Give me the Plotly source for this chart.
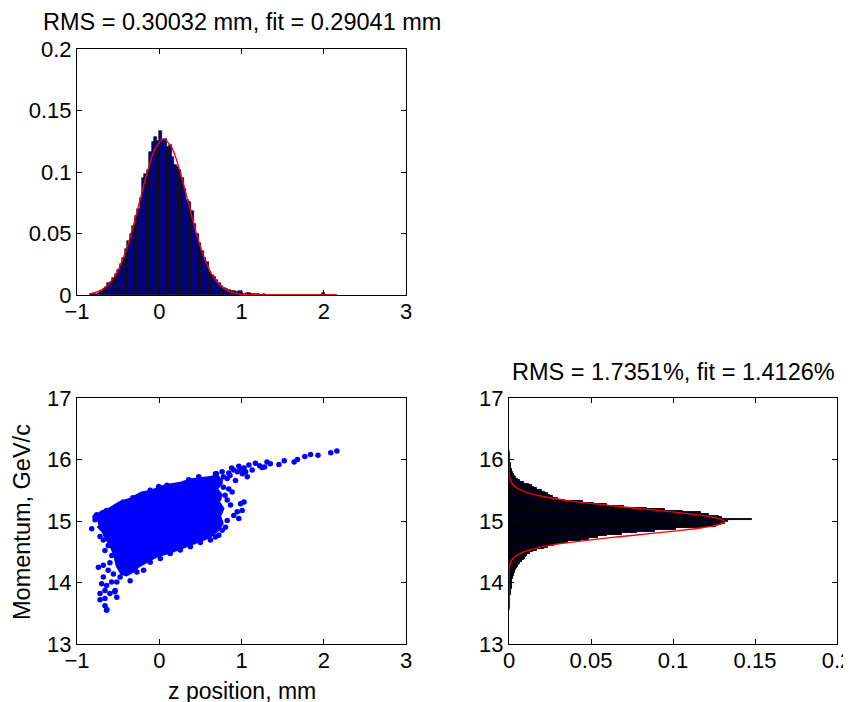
import plotly.graph_objects as go

# ---------------- data ----------------
# top-left: histogram of z position (100 bins)
z_bin_start = -0.84
z_bin_width = 0.03
z_hist = [0.0005, 0.0008, 0.0010, 0.0018, 0.0030, 0.0050, 0.0068, 0.0098, 0.0105, 0.0135,
          0.0170, 0.0205, 0.0255, 0.0300, 0.0370, 0.0440, 0.0500, 0.0560, 0.0640, 0.0700,
          0.0790, 0.0950, 0.0980, 0.1020, 0.1160, 0.1240, 0.1285, 0.1250, 0.1330, 0.1260,
          0.1270, 0.1200, 0.1220, 0.1120, 0.1060, 0.1040, 0.1020, 0.0950, 0.0860, 0.0770,
          0.0760, 0.0680, 0.0580, 0.0500, 0.0420, 0.0360, 0.0300, 0.0270, 0.0190, 0.0160,
          0.0145, 0.0120, 0.0100, 0.0070, 0.0060, 0.0045, 0.0040, 0.0035, 0.0030, 0.0025,
          0.0030, 0.0028, 0.0012, 0.0015, 0.0018, 0.0010, 0.0008, 0.0006, 0.0005, 0.0004,
          0.0006, 0.0003, 0.0004, 0.0002, 0.0003, 0.0002, 0.0003, 0.0002, 0.0002, 0.0001,
          0.0002, 0.0001, 0.0002, 0.0001, 0.0002, 0.0001, 0.0002, 0.0001, 0.0002, 0.0001,
          0.0002, 0.0001, 0.0002, 0.0001, 0.0015, 0.0001, 0.0001, 0.0002, 0.0001, 0.0002]
z_fit_x = [-0.85, -0.75, -0.65, -0.55, -0.45, -0.35, -0.25, -0.15, -0.05, 0.05, 0.15, 0.25,
           0.35, 0.45, 0.55, 0.65, 0.75, 0.85, 0.95, 1.05, 1.15, 1.4, 1.8, 2.15]
z_fit_y = [0.0010, 0.0027, 0.0066, 0.0144, 0.0279, 0.0479, 0.0731, 0.0989, 0.1190, 0.1270,
           0.1200, 0.1010, 0.0757, 0.0502, 0.0296, 0.0155, 0.0072, 0.0030, 0.0011, 0.0004,
           0.0001, 0.0, 0.0, 0.0]

# bottom-left: momentum vs z scatter (dense core outline + individual points)
core_z = [-0.76, -0.70, -0.60, -0.48, -0.35, -0.21, -0.09, 0.03, 0.13, 0.26, 0.38, 0.50,
          0.62, 0.70, 0.74, 0.68, 0.74, 0.70, 0.76, 0.72, 0.75, 0.70, 0.62, 0.54, 0.34,
          0.13, -0.03, -0.15, -0.27, -0.33, -0.40, -0.45, -0.50, -0.53, -0.58, -0.64,
          -0.68, -0.74]
core_p = [15.05, 15.13, 15.18, 15.28, 15.34, 15.44, 15.47, 15.54, 15.57, 15.60, 15.65, 15.66,
          15.69, 15.72, 15.62, 15.52, 15.42, 15.32, 15.20, 15.08, 14.96, 14.86, 14.77, 14.72,
          14.61, 14.51, 14.45, 14.35, 14.27, 14.19, 14.14, 14.16, 14.28, 14.45, 14.62, 14.74,
          14.85, 14.93]
pts_z = [-0.821, -0.78, -0.74, -0.72, -0.68, -0.62, -0.66, -0.577, -0.60, -0.74, -0.68, -0.62,
         -0.557, -0.68, -0.70, -0.64, -0.58, -0.66, -0.72, -0.60, -0.54, -0.72, -0.66, -0.638,
         -0.516, -0.476, -0.66, -0.64, -0.537, -0.516, -0.78, -0.76, -0.64, -0.44, -0.32, -0.11,
         -0.007, 0.094, 0.358, 0.48, 0.683, -0.354, -0.272, -0.19, -0.11, 0.013, 0.134, 0.256,
         0.378, 0.50, 0.622, 0.724,
         0.695, 0.764, 0.845, 0.906, 0.967, 1.03, 1.01, 1.07, 1.09, 1.13, 1.17, 1.25, 1.31,
         1.35, 1.455, 1.52, 1.64, 1.68, 1.77, 1.84, 1.93, 2.085, 2.16, 1.22, 1.28, 0.78, 0.86,
         0.95, 1.00, 0.88, 1.05,
         0.78, 0.845, 0.886, 0.80, 0.826, 0.866, 0.988, 1.03, 1.008, 0.948, 0.906, 0.967,
         0.826, 0.805, 0.764, 0.683, 0.74, 0.826, 0.927, 0.683, 0.724, 0.744, 0.744]
pts_p = [14.876, 15.02, 15.09, 14.75, 14.69, 14.60, 14.52, 14.44, 14.32, 14.25, 14.28, 14.20,
         14.14, 14.09, 13.98, 13.95, 14.01, 13.87, 13.82, 13.82, 13.85, 13.72, 13.62, 13.56,
         14.01, 14.09, 13.74, 13.55, 13.87, 13.76, 15.07, 15.10, 15.17, 15.31, 15.38, 15.50,
         15.56, 15.58, 15.67, 15.72, 15.77, 14.03, 14.17, 14.20, 14.33, 14.39, 14.47, 14.53,
         14.58, 14.65, 14.69, 14.77,
         15.77, 15.80, 15.78, 15.83, 15.89, 15.86, 15.77, 15.72, 15.91, 15.83, 15.94, 15.87,
         15.96, 15.93, 15.92, 15.98, 15.96, 16.00, 16.05, 16.08, 16.07, 16.11, 16.14, 15.90,
         15.88, 15.72, 15.74, 15.80, 15.84, 15.86, 15.80,
         15.55, 15.52, 15.47, 15.42, 15.34, 15.26, 15.28, 15.31, 15.17, 15.15, 15.09, 15.04,
         15.01, 14.90, 14.85, 14.74, 15.66, 15.69, 15.66, 15.60, 15.36, 15.17, 14.98]

# bottom-right: histogram of momentum (100 bins)
p_bin_start = 13.555
p_bin_width = 0.026
p_hist = [0.0003, 0.0004, 0.0005, 0.0006, 0.0004, 0.0007, 0.0008, 0.0006, 0.0009, 0.0010,
          0.0012, 0.0014, 0.0013, 0.0017, 0.0016, 0.0019, 0.0018, 0.0021, 0.0020, 0.0024,
          0.0026, 0.0030, 0.0028, 0.0034, 0.0038, 0.0040, 0.0046, 0.0052, 0.0060, 0.0070,
          0.0082, 0.0090, 0.0095, 0.0102, 0.0110, 0.0128, 0.0145, 0.0170, 0.0215, 0.0240,
          0.0275, 0.0310, 0.0360, 0.0440, 0.0490, 0.0540, 0.0600, 0.0690, 0.0780, 0.0890,
          0.1020, 0.1180, 0.1265, 0.1290, 0.1320, 0.1335, 0.1480, 0.1300, 0.1280, 0.1220,
          0.1170, 0.1060, 0.0950, 0.0840, 0.0700, 0.0600, 0.0520, 0.0450, 0.0340, 0.0300,
          0.0270, 0.0250, 0.0235, 0.0220, 0.0200, 0.0170, 0.0150, 0.0138, 0.0120, 0.0090,
          0.0065, 0.0052, 0.0042, 0.0035, 0.0030, 0.0025, 0.0020, 0.0018, 0.0015, 0.0013,
          0.0011, 0.0010, 0.0009, 0.0008, 0.0007, 0.0006, 0.0005, 0.0005, 0.0003, 0.0003]
p_fit_p = [13.55, 13.99, 14.19, 14.29, 14.34, 14.39, 14.44, 14.49, 14.54, 14.59, 14.64, 14.69,
           14.74, 14.79, 14.84, 14.89, 14.94, 14.99, 15.04, 15.09, 15.14, 15.19, 15.24, 15.29,
           15.34, 15.39, 15.44, 15.49, 15.54, 15.59, 15.64, 15.69, 15.79, 15.99, 16.15]
p_fit_v = [0.0, 0.0, 0.0001, 0.0006, 0.0012, 0.0024, 0.0045, 0.0082, 0.0138, 0.0222, 0.0337,
           0.0483, 0.0656, 0.0843, 0.1024, 0.1177, 0.1279, 0.1315, 0.1279, 0.1177, 0.1024,
           0.0843, 0.0656, 0.0483, 0.0337, 0.0222, 0.0138, 0.0082, 0.0045, 0.0024, 0.0012,
           0.0006, 0.0001, 0.0, 0.0]

# ticks & texts
z_ticks = [-1, 0, 1, 2, 3]
z_ticktext = ["\u22121", "0", "1", "2", "3"]
frac_ticks = [0, 0.05, 0.1, 0.15, 0.2]
frac_ticktext = ["0", "0.05", "0.1", "0.15", "0.2"]
p_ticks = [13, 14, 15, 16, 17]
p_ticktext = ["13", "14", "15", "16", "17"]
title_z = "RMS = 0.30032 mm, fit = 0.29041 mm"
title_p = "RMS = 1.7351%, fit = 1.4126%"
xlabel = "z position, mm"
ylabel = "Momentum, GeV/c"

# ---------------- figure ----------------
# the page body adds an 8px offset; the figure is sized so it fills the 851x702 window
OFF = 8
W, H = 851 - OFF, 702 - OFF
FONT = "Liberation Sans, Arial, Helvetica, sans-serif"
BAR_FILL = "#00008A"
BAR_FILL_H = "#000028"
BLUE = "#0000FF"

z_centers = [z_bin_start + z_bin_width * (i + 0.5) for i in range(len(z_hist))]
p_centers = [p_bin_start + p_bin_width * (i + 0.5) for i in range(len(p_hist))]

fig = go.Figure()
fig.add_trace(go.Bar(x=z_centers, y=z_hist, width=z_bin_width,
                     marker=dict(color=BAR_FILL, line=dict(color="black", width=0.6)),
                     xaxis="x", yaxis="y", showlegend=False))
fig.add_trace(go.Scatter(x=z_fit_x, y=z_fit_y, mode="lines",
                         line=dict(color="red", width=1.3, shape="spline"),
                         xaxis="x", yaxis="y", showlegend=False))

fig.add_trace(go.Scatter(x=core_z, y=core_p, mode="lines", fill="toself",
                         fillcolor=BLUE, line=dict(color=BLUE, width=5),
                         xaxis="x2", yaxis="y2", showlegend=False))
fig.add_trace(go.Scatter(x=pts_z, y=pts_p, mode="markers",
                         marker=dict(color=BLUE, size=5.5, line=dict(width=0)),
                         xaxis="x2", yaxis="y2", showlegend=False))

fig.add_trace(go.Bar(y=p_centers, x=p_hist, width=p_bin_width, orientation="h",
                     marker=dict(color=BAR_FILL_H, line=dict(color="black", width=0.9)),
                     xaxis="x3", yaxis="y3", showlegend=False))
fig.add_trace(go.Scatter(x=p_fit_v, y=p_fit_p, mode="lines",
                         line=dict(color="red", width=1.3, shape="spline"),
                         xaxis="x3", yaxis="y3", showlegend=False))

def ax(domain, rng, tv, tt, anchor, standoff=0):
    return dict(domain=domain, range=rng, tickvals=tv, ticktext=tt, anchor=anchor,
                showline=True, linecolor="black", linewidth=1, mirror="allticks",
                ticks="inside", ticklen=5, tickcolor="black", tickwidth=1,
                showgrid=False, zeroline=False, automargin=False,
                ticklabelstandoff=standoff, ticklabeloverflow="allow",
                tickfont=dict(family=FONT, size=22, color="black"))

def px_x(a, b):
    return [(a - OFF) / W, (b - OFF) / W]

def px_y(top, bottom):
    return [1 - (bottom - OFF) / H, 1 - (top - OFF) / H]

xl = px_x(77, 406)
xr = px_x(509, 837)
yt = px_y(49, 295)
yb = px_y(398, 644)

def note(text, x, y, size, angle=0):
    return dict(text=text, x=(x - OFF) / W, y=1 - (y - OFF) / H, xref="paper", yref="paper",
                xanchor="center", yanchor="middle", showarrow=False, textangle=angle,
                font=dict(family=FONT, size=size, color="black"))

fig.update_layout(
    width=W, height=H, margin=dict(l=0, r=0, t=0, b=0),
    paper_bgcolor="white", plot_bgcolor="white", bargap=0,
    xaxis=ax(xl, [-1, 3], z_ticks, z_ticktext, "y", -3),
    yaxis=ax(yt, [0, 0.2], frac_ticks, frac_ticktext, "x"),
    xaxis2=ax(xl, [-1, 3], z_ticks, z_ticktext, "y2", -3),
    yaxis2=ax(yb, [13, 17], p_ticks, p_ticktext, "x2"),
    xaxis3=ax(xr, [0, 0.2], frac_ticks, frac_ticktext, "y3", -3),
    yaxis3=ax(yb, [13, 17], p_ticks, p_ticktext, "x3"),
    annotations=[
        note(title_z, 241.5, 22, 23.5),
        note(title_p, 673, 372, 23.5),
        note(xlabel, 241.5, 691, 23),
        note(ylabel, 22, 522, 23.5, -90),
    ],
)

fig.write_html("out.html")
